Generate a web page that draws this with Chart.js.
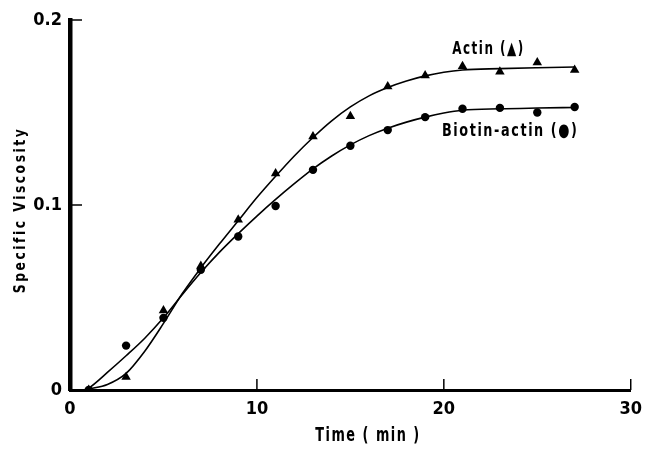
<!DOCTYPE html>
<html>
<head>
<meta charset="utf-8">
<script src="https://cdn.jsdelivr.net/npm/chart.js@4.4.1/dist/chart.umd.min.js"></script>
<style>
  html, body { margin: 0; padding: 0; background: #fff; }
  #wrap { width: 651px; height: 449px; position: relative; }
</style>
</head>
<body>
<div id="wrap"><canvas id="c" width="651" height="449"></canvas></div>
<script>
// ---- data ----
const times = [1, 3, 5, 7, 9, 11, 13, 15, 17, 19, 21, 23, 25, 27];
const actin = [0.000, 0.007, 0.043, 0.067, 0.092, 0.117, 0.137, 0.148, 0.164, 0.170, 0.175, 0.172, 0.177, 0.173];
const biotinActin = [0.000, 0.024, 0.039, 0.065, 0.083, 0.0995, 0.119, 0.132, 0.1405, 0.1475, 0.152, 0.1525, 0.150, 0.153];

// smooth hand-drawn fitted curves
const fitTimes = [0.8, 1, 2, 3, 4, 5, 6, 7, 8, 9, 10, 11, 12, 13, 14, 15, 16, 17, 18, 19, 20, 21, 23, 25, 27];
const actinFit = [0, 0.0005, 0.003, 0.009, 0.021, 0.036, 0.052, 0.066, 0.079, 0.0915, 0.104, 0.1155, 0.1265, 0.1365, 0.1455, 0.153, 0.159, 0.1635, 0.167, 0.1698, 0.1718, 0.173, 0.1737, 0.1742, 0.1746];
const biotinFit = [0, 0.001, 0.0095, 0.0185, 0.028, 0.039, 0.0515, 0.0635, 0.0745, 0.0845, 0.094, 0.103, 0.1115, 0.1195, 0.1265, 0.1325, 0.1375, 0.1415, 0.1448, 0.1475, 0.1497, 0.1512, 0.1520, 0.1524, 0.1527];

const xTicks = [0, 10, 20, 30];
const xTickLabels = ['0', '10', '20', '30'];
const yTicks = [0, 0.1, 0.2];
const yTickLabels = ['0', '0.1', '0.2'];

const xTitle = 'Time ( min )';
const yTitle = 'Specific Viscosity';
const seriesLabels = ['Actin (\u25B2)', 'Biotin-actin (\u25CF)'];

// ---- chart ----
const FONT = "'DejaVu Sans Condensed', 'DejaVu Sans', sans-serif";

const pts = (xs, ys) => xs.map((x, i) => ({ x: x, y: ys[i] }));

// draw text squeezed horizontally to a given width (condensed look of the original)
function fitText(ctx, text, x, y, width, size, spacing, align, rotate) {
  ctx.save();
  ctx.font = 'bold ' + size + 'px ' + FONT;
  ctx.letterSpacing = spacing + 'px';
  const natural = ctx.measureText(text).width - spacing;
  const sx = width / natural;
  ctx.translate(x, y);
  if (rotate) ctx.rotate(-Math.PI / 2);
  ctx.scale(sx, 1);
  ctx.textAlign = align;
  ctx.textBaseline = 'middle';
  ctx.fillStyle = '#000';
  ctx.fillText(text, 0, 0);
  ctx.restore();
}

const decor = {
  id: 'decor',
  afterDraw(chart, args, opts) {
    const ctx = chart.ctx;
    const xs = chart.scales.x, ys = chart.scales.y;
    const area = chart.chartArea;
    ctx.save();
    ctx.strokeStyle = '#000';
    ctx.lineWidth = 1.5;
    // inward tick marks
    yTicks.forEach(v => {
      if (v === 0) return;
      const py = ys.getPixelForValue(v);
      ctx.beginPath();
      ctx.moveTo(area.left, py);
      ctx.lineTo(area.left + 12, py);
      ctx.stroke();
    });
    xTicks.forEach(v => {
      if (v === 0) return;
      const px = xs.getPixelForValue(v);
      ctx.beginPath();
      ctx.moveTo(px, area.bottom);
      ctx.lineTo(px, area.bottom - 11);
      ctx.stroke();
    });
    ctx.restore();
    // axis titles
    fitText(ctx, xTitle, 368, 436, 104, 19, 2, 'center', false);
    fitText(ctx, yTitle, 21, 210, 164, 16.5, 3, 'center', true);
    // series labels
    opts.labels.forEach((l, i) => {
      fitText(ctx, seriesLabels[i], xs.getPixelForValue(l.x), ys.getPixelForValue(l.y), l.w, 18, 2, 'left', false);
    });
  }
};

new Chart(document.getElementById('c'), {
  type: 'scatter',
  data: {
    datasets: [
      { label: seriesLabels[0], data: pts(times, actin), pointStyle: 'triangle', pointRadius: 5.5,
        backgroundColor: '#000', borderColor: '#000', borderWidth: 0, showLine: false, order: 1 },
      { label: seriesLabels[1], data: pts(times, biotinActin), pointStyle: 'circle', pointRadius: 4.2,
        backgroundColor: '#000', borderColor: '#000', borderWidth: 0, showLine: false, order: 1 },
      { label: 'actin fit', data: pts(fitTimes, actinFit), showLine: true, pointRadius: 0,
        borderColor: '#000', borderWidth: 1.6, cubicInterpolationMode: 'monotone', fill: false, order: 2 },
      { label: 'biotin fit', data: pts(fitTimes, biotinFit), showLine: true, pointRadius: 0,
        borderColor: '#000', borderWidth: 1.6, cubicInterpolationMode: 'monotone', fill: false, order: 2 }
    ]
  },
  options: {
    responsive: false,
    animation: false,
    events: [],
    layout: { padding: { left: 0, right: 19, top: 20, bottom: 0 } },
    plugins: {
      legend: { display: false },
      tooltip: { enabled: false },
      decor: { labels: [{ x: 20.45, y: 0.1843, w: 71 }, { x: 19.9, y: 0.140, w: 135 }] }
    },
    scales: {
      x: {
        type: 'linear', min: 0, max: 30,
        afterBuildTicks: s => { s.ticks = xTicks.map(v => ({ value: v })); },
        afterFit: s => { s.height = 59; },
        ticks: {
          callback: (v) => xTickLabels[xTicks.indexOf(v)],
          color: '#000', font: { family: FONT, size: 18, weight: 'bold' }, padding: 9, maxRotation: 0
        },
        grid: { display: false, drawTicks: false },
        border: { display: true, color: '#000', width: 3 }
      },
      y: {
        type: 'linear', min: 0, max: 0.2,
        afterBuildTicks: s => { s.ticks = yTicks.map(v => ({ value: v })); },
        afterFit: s => { s.width = 70; },
        ticks: {
          callback: (v) => { const i = yTicks.findIndex(t => Math.abs(t - v) < 1e-9); return yTickLabels[i]; },
          color: '#000', font: { family: FONT, size: 18, weight: 'bold' }, padding: 8
        },
        grid: { display: false, drawTicks: false },
        border: { display: true, color: '#000', width: 4.5 }
      }
    }
  },
  plugins: [decor]
});
</script>
</body>
</html>
